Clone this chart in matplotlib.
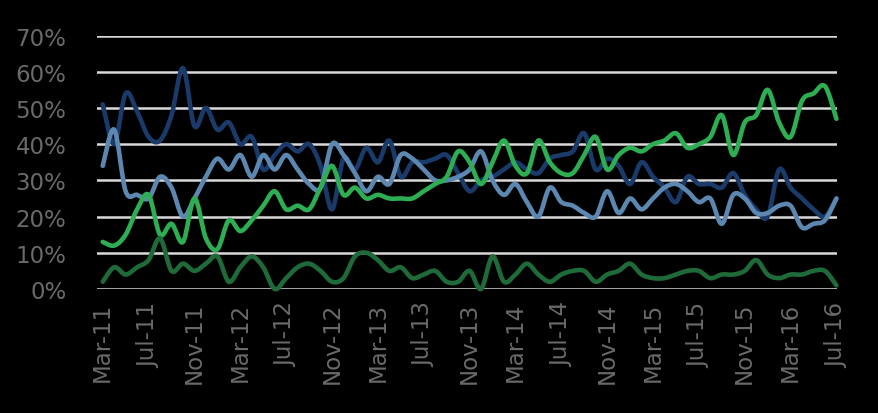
import matplotlib
matplotlib.use("Agg")
import matplotlib.pyplot as plt
from matplotlib.path import Path
from matplotlib.patches import PathPatch
import pandas as pd

# -------- DATA (monthly, Mar-11 .. Jul-16, in %) --------
months = pd.date_range("2011-03-01", "2016-07-01", freq="MS")

navy = [51, 40, 54, 49, 42, 41, 48, 61, 45, 50, 44,
        46, 40, 42, 33, 37, 40, 38, 40, 34, 22,
        36, 33, 39, 35, 41, 31, 35, 35, 36, 37,
        32, 27, 30, 31, 33, 35, 33, 32, 36, 37,
        38, 43, 33, 36, 34, 29, 35, 31, 28, 24,
        31, 29, 29, 28, 32, 26, 22, 20, 33, 28,
        25, 22, 20, 25]

steel = [34, 44, 27, 26, 25, 31, 28, 20, 25, 31, 36,
         33, 37, 31, 37, 33, 37, 33, 29, 28, 40,
         37, 32, 27, 31, 29, 37, 36, 33, 30, 30,
         31, 33, 38, 30, 26, 29, 24, 20, 28, 24,
         23, 21, 20, 27, 21, 25, 22, 25, 28, 29,
         27, 24, 25, 18, 26, 25, 21, 21, 23, 23,
         17, 18, 19, 25]

green = [13, 12, 15, 22, 26, 15, 18, 13, 25, 14, 11,
         19, 16, 19, 23, 27, 22, 23, 22, 28, 34,
         26, 28, 25, 26, 25, 25, 25, 27, 29, 31,
         38, 35, 29, 35, 41, 34, 32, 41, 35, 32,
         32, 37, 42, 33, 37, 39, 38, 40, 41, 43,
         39, 40, 42, 48, 37, 46, 48, 55, 46, 42,
         52, 54, 56, 47]

dkgreen = [2, 6, 4, 6, 8, 14, 5, 7, 5, 7, 9,
           2, 6, 9, 6, 0, 3, 6, 7, 5, 2,
           3, 9, 10, 8, 5, 6, 3, 4, 5, 2,
           2, 5, 0, 9, 2, 4, 7, 4, 2, 4,
           5, 5, 2, 4, 5, 7, 4, 3, 3, 4,
           5, 5, 3, 4, 4, 5, 8, 4, 3, 4,
           4, 5, 5, 1]

series = [navy, steel, green, dkgreen]
colors = ["#1a3a69", "#5b87b1", "#2eae52", "#1f6a39"]

tick_pos = list(range(0, len(months), 4))
tick_labels = [months[i].strftime("%b-%y") for i in tick_pos]
y_ticks = [0, 10, 20, 30, 40, 50, 60, 70]


# smooth line like the spreadsheet "smoothed line" option (Catmull-Rom as Bezier)
def smooth_path(xs, ys):
    pts = list(zip(xs, ys))
    verts = [pts[0]]
    codes = [Path.MOVETO]
    n = len(pts)
    for k in range(n - 1):
        p0 = pts[max(k - 1, 0)]
        p1 = pts[k]
        p2 = pts[k + 1]
        p3 = pts[min(k + 2, n - 1)]
        c1 = (p1[0] + (p2[0] - p0[0]) / 6, p1[1] + (p2[1] - p0[1]) / 6)
        c2 = (p2[0] - (p3[0] - p1[0]) / 6, p2[1] - (p3[1] - p1[1]) / 6)
        verts += [c1, c2, p2]
        codes += [Path.CURVE4] * 3
    return Path(verts, codes)


# -------- PLOT --------
fig = plt.figure(figsize=(8.79, 4.14), dpi=100, facecolor="black")
ax = fig.add_axes([97 / 879, 1 - 290 / 414, 740 / 879, 253.5 / 414])
ax.set_facecolor("black")

x = list(range(len(months)))
for vals, c in zip(series, colors):
    patch = PathPatch(smooth_path(x, vals), facecolor="none", edgecolor=c,
                      lw=3.3, joinstyle="round", capstyle="round",
                      clip_on=False, zorder=3)
    ax.add_patch(patch)

ax.set_xlim(-0.5, 64.05)
ax.set_ylim(0, 70)
ax.set_yticks(y_ticks)
ax.set_yticklabels([f"{v}%" for v in y_ticks])
ax.set_xticks(tick_pos)
ax.set_xticklabels(tick_labels, rotation=90)

ax.grid(axis="y", color="#d9d9d9", lw=1.8, zorder=1)
ax.grid(axis="x", visible=False)
for s in ax.spines.values():
    s.set_visible(False)
ax.tick_params(axis="both", length=0, colors="#6a6a6a", labelsize=16.5)
ax.tick_params(axis="y", pad=22)
ax.tick_params(axis="x", pad=9)

fig.savefig("out.png", dpi=100, facecolor="black")
